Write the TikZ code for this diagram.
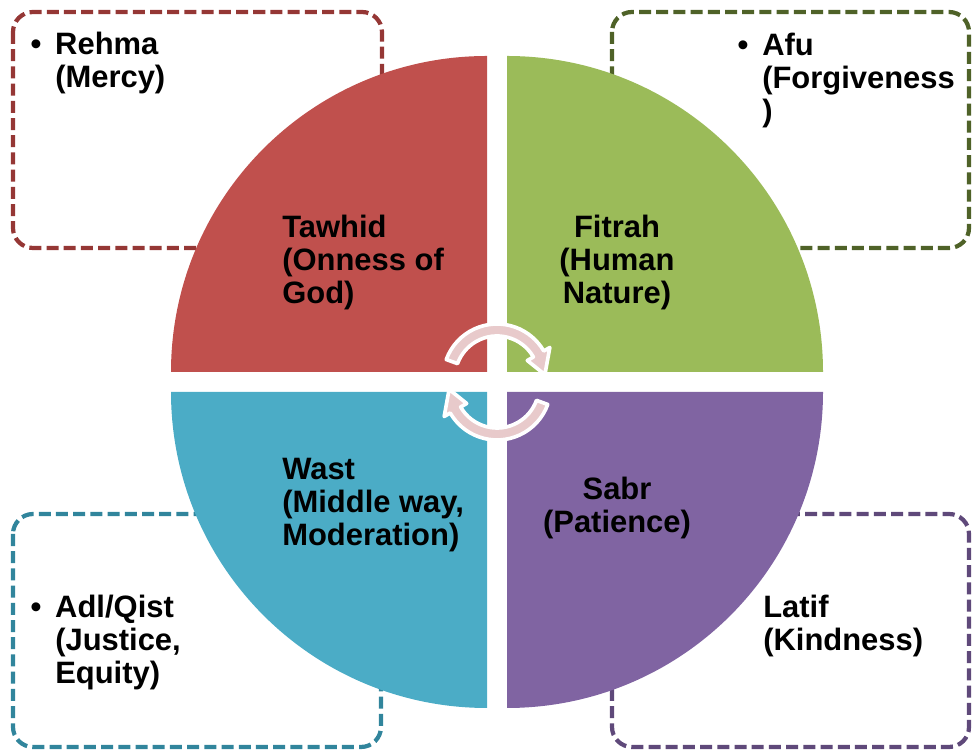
\documentclass[tikz,border=0pt]{standalone}
\usepackage{fontspec}
\setmainfont{Liberation Sans}
\definecolor{qred}{HTML}{C0504D}
\definecolor{qgreen}{HTML}{9BBB59}
\definecolor{qblue}{HTML}{4BACC6}
\definecolor{qpurple}{HTML}{8064A2}
\definecolor{bred}{HTML}{953735}
\definecolor{bgreen}{HTML}{4F6228}
\definecolor{bblue}{HTML}{31859C}
\definecolor{bpurple}{HTML}{5F497A}
\definecolor{turnpink}{HTML}{E8CACB}
\tikzset{
  dashbox/.style={line width=3pt, dash pattern=on 0.3cm off 0.13cm, rounded corners=0.5cm},
  lbl/.style={inner sep=0pt, font=\fontsize{22}{23.4}\selectfont\bfseries, align=left, anchor=north west},
  clbl/.style={lbl, align=center, anchor=north},
  turn/.style={fill=turnpink, draw=white, line width=2.6pt, line join=round}
}
\newcommand{\blt}{\llap{•\hspace{0.45em}}}
\begin{document}
\begin{tikzpicture}[x=0.025cm, y=0.025cm]
\useasboundingbox (0,0) rectangle (972,753);
\draw[dashbox, bred] (13,741) rectangle (382,505);
\draw[dashbox, bgreen] (612,741) rectangle (969,505);
\draw[dashbox, bblue] (13,239) rectangle (381,6);
\draw[dashbox, bpurple] (612,239) rectangle (969,6);
\fill[qred] (487,381) -- (171,381) arc[start angle=180, end angle=90, radius=316] -- cycle;
\fill[qgreen] (507,381) -- (507,697) arc[start angle=90, end angle=0, radius=316] -- cycle;
\fill[qblue] (487,361) -- (487,45) arc[start angle=270, end angle=180, radius=316] -- cycle;
\fill[qpurple] (507,361) -- (823,361) arc[start angle=0, end angle=-90, radius=316] -- cycle;
\begin{scope}[shift={(497,375)}]
\filldraw[turn] (160:54) arc[start angle=160, end angle=30, radius=54] -- (30:61) -- (4:48) -- (30:35) -- (30:42) arc[start angle=30, end angle=160, radius=42] -- cycle;
\end{scope}
\begin{scope}[shift={(497,367)}, rotate=180]
\filldraw[turn] (160:54) arc[start angle=160, end angle=30, radius=54] -- (30:61) -- (4:48) -- (30:35) -- (30:42) arc[start angle=30, end angle=160, radius=42] -- cycle;
\end{scope}
\node[lbl] (tawhid) at (282,538) {Tawhid\\(Onness of\\God)};
\node[clbl] (fitrah) at (617,538) {Fitrah\\(Human\\Nature)};
\node[lbl] (wast) at (282,295) {Wast\\(Middle way,\\Moderation)};
\node[clbl] (sabr) at (617,276) {Sabr\\(Patience)};
\node[lbl] (rehma) at (55,721) {\blt Rehma\\(Mercy)};
\node[lbl] (afu) at (762,720) {\blt Afu\\(Forgiveness\\)};
\node[lbl] (adl) at (55,158) {\blt Adl/Qist\\(Justice,\\Equity)};
\node[lbl] (latif) at (763,158) {Latif\\(Kindness)};
\end{tikzpicture}
\end{document}
